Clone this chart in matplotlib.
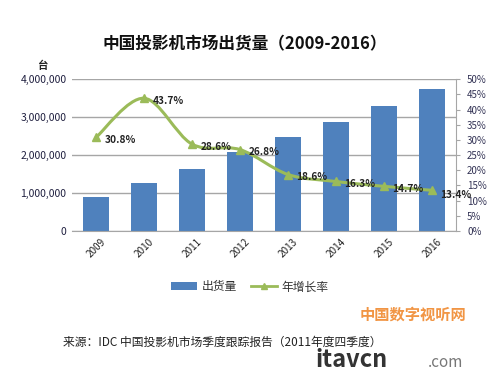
import matplotlib
matplotlib.use("Agg")
import matplotlib.pyplot as plt
from matplotlib.path import Path
from matplotlib.patches import PathPatch, Patch
from matplotlib.lines import Line2D
import numpy as np

plt.rcParams['font.family'] = ['Noto Sans CJK SC', 'DejaVu Sans']

years = ['2009', '2010', '2011', '2012', '2013', '2014', '2015', '2016']
shipments = [890000, 1275000, 1640000, 2080000, 2465000, 2870000, 3290000, 3730000]
growth = [30.8, 43.7, 28.6, 26.8, 18.6, 16.3, 14.7, 13.4]
growth_labels = ['30.8%', '43.7%', '28.6%', '26.8%', '18.6%', '16.3%', '14.7%', '13.4%']
left_ticks = [0, 1000000, 2000000, 3000000, 4000000]
right_ticks = list(range(0, 55, 5))

bar_color = '#4F81BD'
line_color = '#9BBB59'

fig = plt.figure(figsize=(5, 3.75), dpi=100)
ax = fig.add_axes([0.144, 0.384, 0.768, 0.405])
x = np.arange(len(years))
ax.bar(x, shipments, width=0.56, color=bar_color, zorder=2)
ax.set_xlim(-0.5, len(years) - 0.5)
ax.set_ylim(0, 4000000)
ax.set_yticks(left_ticks)
ax.set_yticklabels([f'{v:,}' for v in left_ticks], fontsize=7.5, color='#1F1F3F')
ax.grid(axis='y', color='#A6A6A6', linewidth=1, zorder=0)
ax.set_xticks(x)
ax.set_xticklabels(years, rotation=45, fontsize=7.2, color='#222222')
ax.tick_params(axis='both', length=0, pad=4)
for s in ['top', 'left', 'right']:
    ax.spines[s].set_visible(False)
ax.spines['bottom'].set_color('#A6A6A6')

ax2 = ax.twinx()
ax2.set_ylim(0, 50)
ax2.set_yticks(right_ticks)
ax2.set_yticklabels([f'{v}%' for v in right_ticks], fontsize=7, color='#333355')
ax2.tick_params(axis='y', length=3, color='#A6A6A6', pad=5)
for s in ['top', 'left', 'bottom']:
    ax2.spines[s].set_visible(False)
ax2.spines['right'].set_color('#A6A6A6')

# smooth line (Catmull-Rom style bezier through the data points)
px = x.astype(float)
py = np.array(growth, dtype=float)
verts = [(px[0], py[0])]
codes = [Path.MOVETO]
t = 1 / 6
for i in range(len(px) - 1):
    p0 = (px[i - 1], py[i - 1]) if i > 0 else (px[i], py[i])
    p1 = (px[i], py[i])
    p2 = (px[i + 1], py[i + 1])
    p3 = (px[i + 2], py[i + 2]) if i + 2 < len(px) else p2
    c1 = (p1[0] + (p2[0] - p0[0]) * t, p1[1] + (p2[1] - p0[1]) * t)
    c2 = (p2[0] - (p3[0] - p1[0]) * t, p2[1] - (p3[1] - p1[1]) * t)
    verts += [c1, c2, p2]
    codes += [Path.CURVE4] * 3
ax2.add_patch(PathPatch(Path(verts, codes), facecolor='none', edgecolor=line_color,
                        linewidth=2.2, zorder=3))
ax2.plot(x, growth, linestyle='none', marker='^', markersize=6, color=line_color, zorder=4)
for i, (xi, yi, lab) in enumerate(zip(x, growth, growth_labels)):
    dy = -2 if i < len(x) - 1 else -3.5
    ax2.annotate(lab, (xi, yi), xytext=(6, dy), textcoords='offset points',
                 fontsize=7.3, fontweight='bold', color='#222222', va='center', ha='left',
                 zorder=5)

fig.text(0.49, 0.883, '中国投影机市场出货量（2009-2016）', ha='center', va='center',
         fontsize=12, fontweight='bold', color='#111111')
fig.text(0.085, 0.825, '台', ha='center', va='center', fontsize=7.5, fontweight='bold',
         color='#222222')

handles = [Patch(facecolor=bar_color, label='出货量'),
           Line2D([0], [0], color=line_color, marker='^', linewidth=2, markersize=5,
                  label='年增长率')]
fig.legend(handles=handles, loc='center', bbox_to_anchor=(0.5, 0.235), ncol=2,
           frameon=False, fontsize=8.5, handlelength=2.2, handleheight=0.6,
           columnspacing=1.2, handletextpad=0.4, labelcolor='#333333')

fig.text(0.126, 0.088, '来源：IDC 中国投影机市场季度跟踪报告（2011年度四季度）', ha='left',
         va='center', fontsize=8.5, color='#222222')

# watermark
fig.text(0.72, 0.16, '中国数字视听网', ha='left', va='center', fontsize=11,
         fontweight='bold', color='#F08A30', alpha=0.9)
fig.text(0.63, 0.022, 'itavcn', ha='left', va='baseline', fontsize=17,
         fontweight='bold', color='#333333')
fig.text(0.855, 0.022, '.com', ha='left', va='baseline', fontsize=11, color='#777777')

fig.savefig('out.png', dpi=100)
